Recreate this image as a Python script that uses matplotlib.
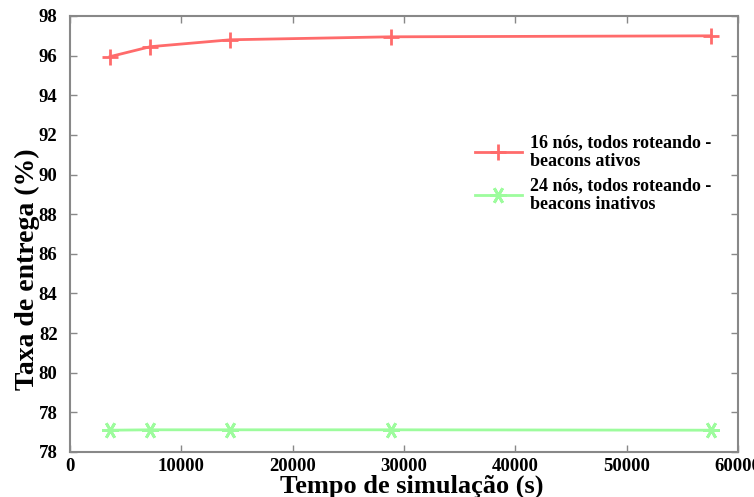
import numpy as np
import matplotlib
matplotlib.use('Agg')
import matplotlib.pyplot as plt

# dados
tempo = [3600, 7200, 14400, 28800, 57600]
taxa_ativos = [95.95, 96.45, 96.8, 96.95, 97.0]
taxa_inativos = [77.1, 77.12, 77.12, 77.12, 77.1]

yticks = [76, 78, 80, 82, 84, 86, 88, 90, 92, 94, 96, 98]
ytick_labels = ['78', '78', '80', '82', '84', '86', '88', '90', '92', '94', '96', '98']
xticks = [0, 10000, 20000, 30000, 40000, 50000, 60000]

plt.rcParams['font.family'] = ['Liberation Serif', 'DejaVu Serif']
plt.rcParams['font.weight'] = 'bold'

fig = plt.figure(figsize=(7.54, 4.97), dpi=100)
ax = fig.add_axes([70/754, 45/497, 668/754, 436/497])

ax.plot(tempo, taxa_ativos, c='#ff6b6b', lw=2, marker='+', ms=12, mew=2,
        label='16 nós, todos roteando -\nbeacons ativos')
ax.plot(tempo, taxa_inativos, c='#9dfc9d', lw=2, marker=(6, 2, 90), ms=12, mew=2,
        label='24 nós, todos roteando -\nbeacons inativos')

ax.set_xlim(0, 60000)
ax.set_ylim(76, 98)
ax.set_xticks(xticks)
ax.set_yticks(yticks)
ax.set_yticklabels(ytick_labels)
ax.tick_params(direction='in', top=True, right=True, length=5, width=1,
               color='#888888', labelsize=13.5)
ax.tick_params(axis='x', pad=4)
ax.tick_params(axis='y', pad=9)
for s in ax.spines.values():
    s.set_color('#888888')
    s.set_linewidth(1.5)

ax.set_xlabel('Tempo de simulação (s)', fontsize=19, fontweight='bold')
ax.set_ylabel('Taxa de entrega (%)', fontsize=20, fontweight='bold')
ax.xaxis.set_label_coords(0.512, -0.052)
ax.yaxis.set_label_coords(-0.045, 0.42)

leg = ax.legend(loc='upper left', bbox_to_anchor=(0.5925, 0.75), frameon=False,
                fontsize=13, handlelength=2.6, labelspacing=0.4,
                handletextpad=0.45, borderpad=0)
for t in leg.get_texts():
    t.set_linespacing(1.15)

fig.savefig('out.png', dpi=100)
